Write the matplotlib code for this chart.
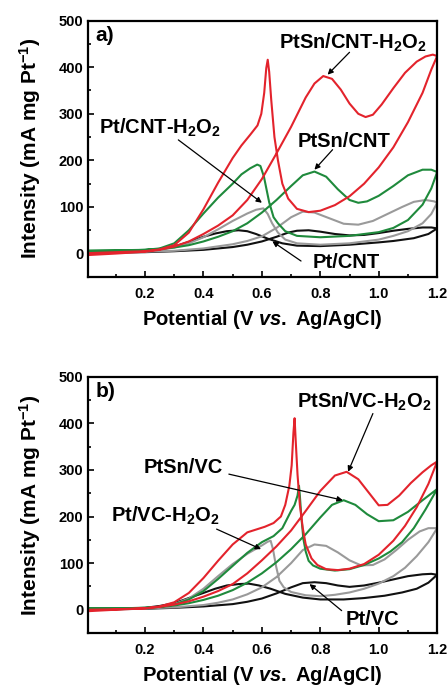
import numpy as np
import matplotlib
matplotlib.use("Agg")
import matplotlib.pyplot as plt
from matplotlib.ticker import MultipleLocator

plt.rcParams['font.family'] = ['Liberation Sans', 'DejaVu Sans']
plt.rcParams['font.weight'] = 'bold'
plt.rcParams['axes.labelweight'] = 'bold'
plt.rcParams['mathtext.fontset'] = 'custom'
plt.rcParams['mathtext.rm'] = 'Liberation Sans:bold'
plt.rcParams['mathtext.bf'] = 'Liberation Sans:bold'
plt.rcParams['mathtext.it'] = 'Liberation Sans:bold:italic'
plt.rcParams['mathtext.default'] = 'bf'

# ---------- panel a: CNT supported catalysts (forward scan, then backward scan) ----------
a_ptsn_h2o2_fx = [0.01, 0.10, 0.20, 0.25, 0.30, 0.35, 0.40, 0.45, 0.50, 0.55, 0.60, 0.65, 0.70, 0.75, 0.78, 0.81,
                  0.84, 0.87, 0.90, 0.93, 0.955, 0.98, 1.01, 1.05, 1.09, 1.13, 1.16, 1.185, 1.20]
a_ptsn_h2o2_fy = [-3, 0, 4, 8, 15, 26, 42, 60, 82, 115, 160, 215, 272, 335, 365, 381,
                  375, 352, 322, 300, 293, 298, 320, 355, 388, 412, 423, 427, 424]
a_ptsn_h2o2_bx = [1.20, 1.18, 1.15, 1.10, 1.05, 1.00, 0.95, 0.90, 0.85, 0.80, 0.76, 0.72, 0.69, 0.67, 0.655, 0.643,
                  0.632, 0.625, 0.620, 0.615, 0.608, 0.598, 0.585, 0.56, 0.53, 0.50, 0.45, 0.40, 0.35, 0.30, 0.25,
                  0.20, 0.10, 0.01]
a_ptsn_h2o2_by = [424, 395, 345, 282, 228, 185, 150, 123, 104, 92, 89, 96, 118, 150, 200, 250,
                  330, 390, 416, 398, 345, 300, 275, 255, 232, 205, 152, 95, 45, 18, 9, 5, 3, 1]

a_ptsn_fx = [0.01, 0.10, 0.20, 0.25, 0.30, 0.35, 0.40, 0.45, 0.50, 0.55, 0.60, 0.65, 0.70, 0.74, 0.78, 0.82,
             0.86, 0.90, 0.93, 0.96, 1.00, 1.05, 1.10, 1.15, 1.18, 1.20]
a_ptsn_fy = [6, 6, 8, 10, 13, 18, 26, 36, 48, 65, 88, 115, 145, 168, 176, 165,
             138, 115, 109, 112, 124, 145, 168, 180, 180, 175]
a_ptsn_bx = [1.20, 1.18, 1.15, 1.10, 1.05, 1.00, 0.90, 0.80, 0.72, 0.68, 0.655, 0.64, 0.625, 0.607, 0.595, 0.584,
             0.56, 0.53, 0.50, 0.45, 0.40, 0.35, 0.30, 0.25, 0.20, 0.10, 0.01]
a_ptsn_by = [175, 140, 105, 72, 55, 46, 38, 35, 38, 48, 65, 78, 110, 165, 188, 191,
             183, 170, 150, 120, 86, 50, 22, 11, 8, 7, 6]

a_pt_h2o2_fx = [0.01, 0.10, 0.20, 0.30, 0.40, 0.50, 0.55, 0.60, 0.65, 0.70, 0.74, 0.78, 0.83, 0.88, 0.93, 0.98,
                1.03, 1.08, 1.12, 1.16, 1.19, 1.20]
a_pt_h2o2_fy = [3, 3, 4, 6, 11, 20, 27, 37, 55, 78, 90, 88, 76, 64, 62, 70, 85, 100, 111, 115, 112, 109]
a_pt_h2o2_bx = [1.20, 1.18, 1.15, 1.10, 1.05, 1.00, 0.90, 0.80, 0.72, 0.68, 0.655, 0.635, 0.62, 0.605, 0.58,
                0.55, 0.50, 0.45, 0.40, 0.35, 0.30, 0.25, 0.20, 0.10, 0.01]
a_pt_h2o2_by = [109, 85, 65, 48, 38, 30, 22, 19, 22, 30, 45, 65, 85, 97, 94, 86, 70, 52, 35, 22, 13, 8, 5, 4, 3]

a_pt_fx = [0.01, 0.10, 0.20, 0.30, 0.40, 0.50, 0.55, 0.60, 0.65, 0.69, 0.72, 0.76, 0.80, 0.85, 0.90, 0.95, 1.00,
           1.05, 1.10, 1.15, 1.18, 1.20]
a_pt_fy = [2, 2, 3, 5, 8, 14, 19, 26, 36, 45, 49, 50, 47, 42, 39, 40, 44, 49, 53, 56, 56, 54]
a_pt_bx = [1.20, 1.17, 1.12, 1.05, 1.00, 0.90, 0.80, 0.72, 0.67, 0.62, 0.58, 0.55, 0.52, 0.48, 0.44, 0.40, 0.35,
           0.30, 0.25, 0.20, 0.10, 0.01]
a_pt_by = [54, 42, 33, 27, 24, 19, 16, 17, 22, 32, 42, 48, 50, 48, 43, 36, 25, 15, 9, 5, 3, 2]

# ---------- panel b: Vulcan carbon supported catalysts ----------
b_ptsn_h2o2_fx = [0.01, 0.10, 0.20, 0.25, 0.30, 0.35, 0.40, 0.45, 0.50, 0.55, 0.60, 0.65, 0.70, 0.75, 0.80, 0.85,
                  0.89, 0.93, 0.97, 1.00, 1.03, 1.07, 1.11, 1.15, 1.18, 1.20]
b_ptsn_h2o2_fy = [-3, 0, 3, 6, 11, 18, 28, 40, 55, 78, 106, 136, 170, 212, 255, 288,
                  296, 280, 248, 224, 225, 245, 272, 295, 310, 318]
b_ptsn_h2o2_bx = [1.20, 1.17, 1.13, 1.09, 1.05, 1.00, 0.95, 0.90, 0.86, 0.82, 0.79, 0.77, 0.75, 0.74, 0.73, 0.722,
                  0.716, 0.712, 0.708, 0.702, 0.694, 0.68, 0.665, 0.64, 0.61, 0.58, 0.55, 0.50, 0.45, 0.40, 0.35,
                  0.30, 0.25, 0.20, 0.10, 0.01]
b_ptsn_h2o2_by = [318, 270, 220, 180, 148, 118, 98, 88, 85, 87, 96, 110, 140, 175, 225, 290,
                  360, 411, 380, 310, 266, 225, 200, 186, 178, 172, 166, 140, 105, 68, 36, 16, 7, 3, 1, 0]

b_ptsn_fx = [0.01, 0.10, 0.20, 0.25, 0.30, 0.35, 0.40, 0.45, 0.50, 0.55, 0.60, 0.65, 0.70, 0.75, 0.80, 0.84,
             0.88, 0.92, 0.96, 1.00, 1.05, 1.10, 1.15, 1.20]
b_ptsn_fy = [3, 3, 4, 6, 9, 14, 21, 30, 42, 58, 78, 102, 130, 162, 198, 225, 235, 225, 205, 190, 192, 210, 235, 259]
b_ptsn_bx = [1.20, 1.16, 1.12, 1.08, 1.04, 1.00, 0.95, 0.90, 0.85, 0.80, 0.775, 0.76, 0.75, 0.742, 0.735, 0.730,
             0.727, 0.722, 0.712, 0.70, 0.67, 0.64, 0.60, 0.55, 0.50, 0.45, 0.40, 0.35, 0.30, 0.25, 0.20, 0.10, 0.01]
b_ptsn_by = [259, 215, 175, 145, 125, 110, 96, 87, 84, 88, 95, 105, 125, 152, 200, 245,
             266, 245, 225, 212, 175, 158, 145, 122, 94, 66, 40, 22, 11, 6, 4, 3, 3]

b_pt_h2o2_fx = [0.01, 0.10, 0.20, 0.30, 0.40, 0.45, 0.50, 0.55, 0.60, 0.65, 0.70, 0.74, 0.78, 0.82, 0.86, 0.90,
                0.94, 0.98, 1.02, 1.06, 1.10, 1.14, 1.17, 1.20]
b_pt_h2o2_fy = [2, 2, 3, 5, 10, 15, 22, 33, 48, 70, 100, 128, 140, 137, 123, 106, 95, 96, 108, 128, 150, 168, 175, 175]
b_pt_h2o2_bx = [1.20, 1.17, 1.13, 1.09, 1.05, 1.00, 0.95, 0.90, 0.85, 0.80, 0.75, 0.70, 0.675, 0.66, 0.648, 0.638,
                0.63, 0.62, 0.60, 0.55, 0.50, 0.45, 0.40, 0.35, 0.30, 0.25, 0.20, 0.10, 0.01]
b_pt_h2o2_by = [175, 145, 115, 90, 72, 56, 45, 37, 32, 29, 31, 38, 48, 62, 95, 130,
                148, 146, 138, 120, 98, 72, 45, 24, 12, 6, 3, 2, 2]

b_pt_fx = [0.01, 0.10, 0.20, 0.30, 0.40, 0.50, 0.55, 0.60, 0.65, 0.70, 0.74, 0.78, 0.82, 0.86, 0.90, 0.95, 1.00,
           1.05, 1.10, 1.15, 1.18, 1.20]
b_pt_fy = [1, 1, 2, 4, 7, 12, 17, 24, 35, 48, 57, 59, 57, 52, 49, 52, 58, 65, 72, 76, 77, 75]
b_pt_bx = [1.20, 1.17, 1.13, 1.08, 1.02, 0.95, 0.88, 0.80, 0.74, 0.68, 0.63, 0.59, 0.555, 0.52, 0.48, 0.44, 0.40,
           0.35, 0.30, 0.25, 0.20, 0.10, 0.01]
b_pt_by = [75, 58, 45, 37, 30, 25, 22, 22, 26, 34, 45, 52, 56, 55, 52, 45, 36, 25, 14, 8, 4, 2, 1]

RED = '#e3232c'
GREEN = '#1f8a3c'
GRAY = '#9a9a9a'
BLACK = '#111111'


def draw_loop(ax, fx, fy, bx, by, color):
    x = np.concatenate([fx, bx])
    y = np.concatenate([fy, by])
    ax.plot(x, y, color=color, lw=1.5, solid_joinstyle='round')


def style_axes(ax):
    ax.set_xlim(0.005, 1.2)
    ax.set_ylim(-50, 500)
    ax.xaxis.set_major_locator(MultipleLocator(0.2))
    ax.xaxis.set_minor_locator(MultipleLocator(0.1))
    ax.yaxis.set_major_locator(MultipleLocator(100))
    ax.yaxis.set_minor_locator(MultipleLocator(50))
    ax.tick_params(which='both', direction='in', labelsize=10.5, width=1.2)
    ax.tick_params(which='major', length=4)
    ax.tick_params(which='minor', length=2.5)
    ax.tick_params(axis='x', pad=7)
    ax.set_xticks([0.2, 0.4, 0.6, 0.8, 1.0, 1.2])
    ax.set_xticklabels(['0.2', '0.4', '0.6', '0.8', '1.0', '1.2'])
    for s in ax.spines.values():
        s.set_linewidth(1.6)
    ax.set_xlabel(r'Potential (V $\mathit{vs.}$ Ag/AgCl)', fontsize=14.5, fontweight='bold', labelpad=5)
    ax.set_ylabel(r'Intensity (mA mg Pt$^{-1}$)', fontsize=15, fontweight='bold', labelpad=11)


def label(ax, text, xy_text, xy_arrow_tail, xy_head):
    ax.text(xy_text[0], xy_text[1], text, fontsize=14.5, fontweight='bold', ha='center', va='center')
    ax.annotate('', xy=xy_head, xytext=xy_arrow_tail,
                arrowprops=dict(arrowstyle='-|>', lw=0.9, color='black',
                                mutation_scale=8, shrinkA=0, shrinkB=0))


fig = plt.figure(figsize=(4.47, 6.87), dpi=100)
ax1 = fig.add_axes([0.197, 0.597, 0.781, 0.373])
ax2 = fig.add_axes([0.197, 0.0786, 0.781, 0.373])

draw_loop(ax1, a_pt_fx, a_pt_fy, a_pt_bx, a_pt_by, BLACK)
draw_loop(ax1, a_pt_h2o2_fx, a_pt_h2o2_fy, a_pt_h2o2_bx, a_pt_h2o2_by, GRAY)
draw_loop(ax1, a_ptsn_fx, a_ptsn_fy, a_ptsn_bx, a_ptsn_by, GREEN)
draw_loop(ax1, a_ptsn_h2o2_fx, a_ptsn_h2o2_fy, a_ptsn_h2o2_bx, a_ptsn_h2o2_by, RED)
style_axes(ax1)
ax1.text(0.03, 467, 'a)', fontsize=15, fontweight='bold', ha='left', va='center')
label(ax1, r'PtSn/CNT-H$_2$O$_2$', (0.91, 452), (0.90, 432), (0.825, 384))
label(ax1, r'Pt/CNT-H$_2$O$_2$', (0.25, 270), (0.314, 244), (0.60, 109))
label(ax1, 'PtSn/CNT', (0.88, 240), (0.842, 223), (0.78, 180))
label(ax1, 'Pt/CNT', (0.89, -19), (0.734, -16), (0.636, 26))

draw_loop(ax2, b_pt_fx, b_pt_fy, b_pt_bx, b_pt_by, BLACK)
draw_loop(ax2, b_pt_h2o2_fx, b_pt_h2o2_fy, b_pt_h2o2_bx, b_pt_h2o2_by, GRAY)
draw_loop(ax2, b_ptsn_fx, b_ptsn_fy, b_ptsn_bx, b_ptsn_by, GREEN)
draw_loop(ax2, b_ptsn_h2o2_fx, b_ptsn_h2o2_fy, b_ptsn_h2o2_bx, b_ptsn_h2o2_by, RED)
style_axes(ax2)
ax2.text(0.03, 469, 'b)', fontsize=15, fontweight='bold', ha='left', va='center')
label(ax2, r'PtSn/VC-H$_2$O$_2$', (0.95, 447), (0.98, 421), (0.895, 296))
label(ax2, 'PtSn/VC', (0.33, 305), (0.487, 291), (0.877, 235))
label(ax2, r'Pt/VC-H$_2$O$_2$', (0.27, 201), (0.445, 173), (0.597, 130))
label(ax2, 'Pt/VC', (0.98, -20), (0.873, -2), (0.763, 55))

fig.savefig('out.png', dpi=100)
